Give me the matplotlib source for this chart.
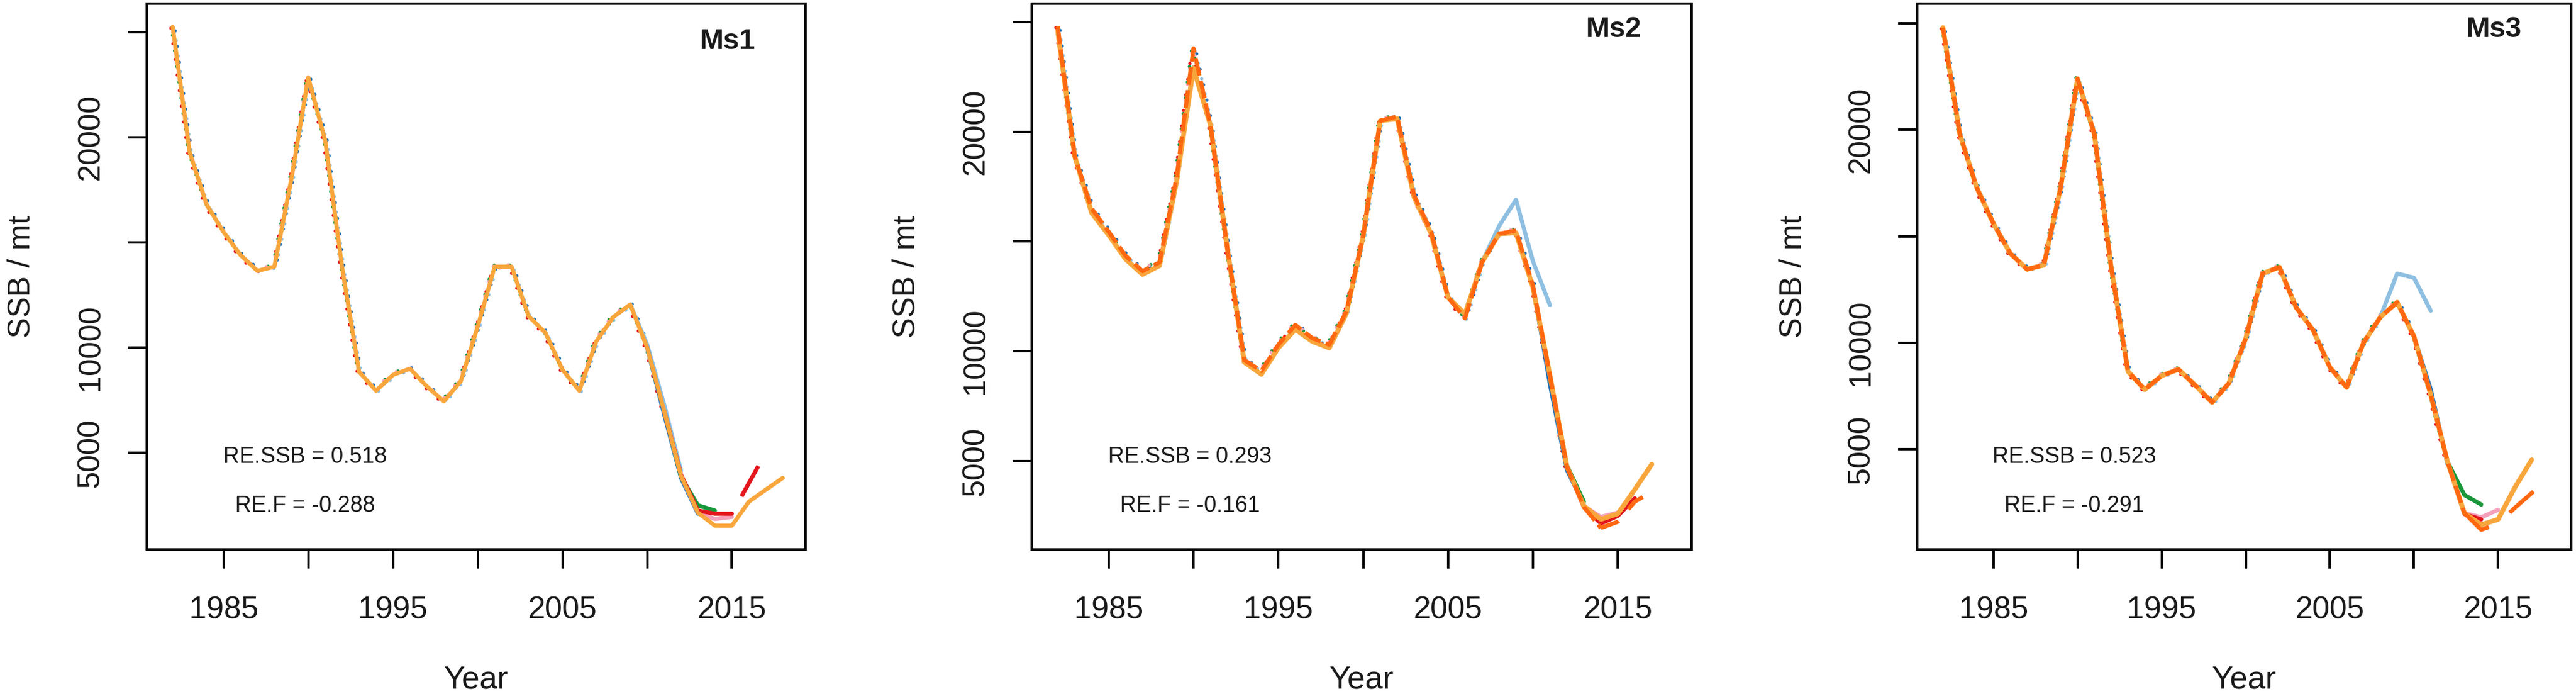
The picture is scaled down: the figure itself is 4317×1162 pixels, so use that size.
import matplotlib
matplotlib.use("Agg")
import matplotlib.pyplot as plt
from matplotlib.transforms import offset_copy

plt.rcParams['font.family'] = ['Liberation Sans', 'DejaVu Sans']
plt.rcParams['lines.scale_dashes'] = False

# ---------------- data ----------------
YEARS = list(range(1982, 2019))
PANELS = ["Ms1", "Ms2", "Ms3"]
RE_SSB = ["0.518", "0.293", "0.523"]
RE_F = ["-0.288", "-0.161", "-0.291"]

X_TICKS = [1985, 1990, 1995, 2000, 2005, 2010, 2015]
X_TICK_LABELS = ["1985", "", "1995", "", "2005", "", "2015"]
Y_TICKS = [5000, 10000, 15000, 20000, 25000]
Y_TICK_LABELS = ["5000", "10000", "", "20000", ""]

# Ms1: full run (light orange) 1982-2018
MS1_MAIN = [25250, 19300, 16800, 15500, 14400, 13650, 13850, 18000, 22850, 19850,
            13800, 8850, 7950, 8700, 9000, 8150, 7450, 8400, 11000, 13850,
            13850, 11500, 10700, 8950, 7950, 10300, 11450, 12050, 10000, 7000,
            3900, 2150, 1530, 1530, 2670, 3240, 3800]
# retrospective peels: (first year of divergence, values from that year on)
MS1_SKY_START, MS1_SKY_TAIL = 2010, [10150, 7300, 4150]
MS1_BLUE_START, MS1_BLUE_TAIL = 2011, [6850, 3800, 2100]
MS1_GREEN_START, MS1_GREEN_TAIL = 2012, [3850, 2500, 2250]
MS1_PINK_START, MS1_PINK_TAIL = 2012, [3900, 2150, 1850, 1950]
MS1_RED_START, MS1_RED_TAIL = 2012, [3950, 2250, 2100, 2100, 3550, 5000]

# Ms2: dark orange run 1982-2017 and light orange run 1982-2017
MS2_MAIN = [24800, 18900, 16500, 15450, 14350, 13650, 14050, 17900, 23800, 20300,
            14650, 9600, 9100, 10300, 11200, 10600, 10300, 11800, 15250, 20500,
            20700, 17100, 15450, 12450, 11500, 14050, 15350, 15500, 13000, 8900,
            4750, 2900, 1950, 2230, 3150, 3600]
MS2_LORANGE = [24600, 18900, 16300, 15300, 14200, 13500, 13900, 17700, 22900, 20300,
               14650, 9500, 8950, 10150, 11000, 10450, 10150, 11700, 15250, 20500,
               20600, 17000, 15350, 12450, 11700, 14050, 15350, 15400, 12900, 8900,
               4750, 2950, 2340, 2600, 3700, 4850]
MS2_SKY_START, MS2_SKY_TAIL = 2008, [15700, 16900, 14100, 12100]
MS2_BLUE_START, MS2_BLUE_TAIL = 2011, [8500, 4600, 3000]
MS2_GREEN_START, MS2_GREEN_TAIL = 2012, [4800, 3150]
MS2_PINK_START, MS2_PINK_TAIL = 2013, [2950, 2450, 2650]
MS2_RED_START, MS2_RED_TAIL = 2013, [2900, 2150, 2500, 3300]

# Ms3: shared body 1982-2013
MS3_MAIN = [24800, 19800, 17300, 15600, 14200, 13450, 13650, 17300, 22400, 19800,
            13550, 8650, 7800, 8450, 8750, 8000, 7200, 8100, 10200, 13250,
            13550, 11650, 10600, 8850, 7900, 10000, 11200, 11900, 10300, 7550,
            4400, 2000]
MS3_DORANGE_START, MS3_DORANGE_TAIL = 2014, [1213, 1500, 2250, 2940, 3640]
MS3_LORANGE_START, MS3_LORANGE_TAIL = 2014, [1450, 1700, 3200, 4500]
MS3_SKY_START, MS3_SKY_TAIL = 2009, [13250, 13050, 11500]
MS3_BLUE_START, MS3_BLUE_TAIL = 2011, [7800, 4300]
MS3_GREEN_START, MS3_GREEN_TAIL = 2013, [2850, 2400]
MS3_PINK_START, MS3_PINK_TAIL = 2014, [1800, 2150]
MS3_RED_START, MS3_RED_TAIL = 2013, [1950, 1700]

# ---------------- styling ----------------
LORANGE = '#F8A63C'
DORANGE = '#FF6810'
RED = '#E3161C'
PINK = '#F4A0BA'
GREEN = '#17973A'
BLUE = '#1F6EB6'
SKY = '#8EBFE1'
TXT = '#1a1a1a'

W, H, DPI = 4317, 1162, 100
fig = plt.figure(figsize=(W / DPI, H / DPI), dpi=DPI)

AX_BOTTOM, AX_TOP = 920, 6
boxes = [(246, 1350), (1729, 2835), (3213, 4309)]
YLIMS = [(400, 26360), (970, 25840), (290, 25930)]
XLIM = (1980.47, 2019.35)
MS_Y = [0.93, 0.952, 0.952]

LW = 5.0
BODY_DASH = (0, (21.6, 6.5))
# speck offsets (pixels) and phases per colour, mimicking peels peeking out
SPECK = {RED: (-3.0, -2.0, 0.0), GREEN: (-2.5, 2.5, 7.0), BLUE: (3.0, 1.5, 13.0),
         SKY: (3.0, -2.0, 4.0), PINK: (-1.5, 3.0, 10.0)}


def series(body, start, tail):
    k = start - YEARS[0]
    vals = body[:k] + tail
    return YEARS[:len(vals)], vals


def specks(ax, yrs, vals, color, z):
    dx, dy, ph = SPECK[color]
    tr = offset_copy(ax.transData, fig=fig, x=dx, y=dy, units='dots')
    ax.plot(yrs, vals, color=color, lw=4.0, linestyle=(ph, (0.01, 19.0)),
            dash_capstyle='round', transform=tr, zorder=z)


def solid(ax, yrs, vals, color, z, lw=LW):
    ax.plot(yrs, vals, color=color, lw=lw, solid_capstyle='round',
            solid_joinstyle='round', zorder=z)


def draw_peels(ax, body, peels):
    for z, (s, t, c) in enumerate(peels):
        y_, v_ = series(body, s, t)
        k = s - YEARS[0]
        specks(ax, y_[:k], v_[:k], c, 1 + z)
        solid(ax, y_[k - 1:], v_[k - 1:], c, 6 + z)


axes = []
for i, (l, r) in enumerate(boxes):
    ax = fig.add_axes([l / W, (H - AX_BOTTOM) / H, (r - l) / W, (AX_BOTTOM - AX_TOP) / H])
    axes.append(ax)
    ax.set_xlim(*XLIM)
    ax.set_ylim(*YLIMS[i])

# ---- Ms1 ----
ax = axes[0]
draw_peels(ax, MS1_MAIN, [(MS1_SKY_START, MS1_SKY_TAIL, SKY),
                          (MS1_BLUE_START, MS1_BLUE_TAIL, BLUE),
                          (MS1_GREEN_START, MS1_GREEN_TAIL, GREEN),
                          (MS1_PINK_START, MS1_PINK_TAIL, PINK)])
y_, v_ = series(MS1_MAIN, MS1_RED_START, MS1_RED_TAIL)
k0 = MS1_RED_START - YEARS[0]
specks(ax, y_[:k0], v_[:k0], RED, 5)
k = 2015 - YEARS[0]
solid(ax, y_[k0 - 1:k + 1], v_[k0 - 1:k + 1], RED, 10)
ax.plot(y_[k:], v_[k:], color=RED, lw=LW, linestyle=(41.8, (41.8, 24.0)), zorder=10)
solid(ax, YEARS, MS1_MAIN, LORANGE, 12)

# ---- Ms2 ----
ax = axes[1]
draw_peels(ax, MS2_MAIN, [(MS2_SKY_START, MS2_SKY_TAIL, SKY),
                          (MS2_BLUE_START, MS2_BLUE_TAIL, BLUE),
                          (MS2_GREEN_START, MS2_GREEN_TAIL, GREEN),
                          (MS2_PINK_START, MS2_PINK_TAIL, PINK),
                          (MS2_RED_START, MS2_RED_TAIL, RED)])
yrs2 = YEARS[:len(MS2_LORANGE)]
solid(ax, yrs2, MS2_LORANGE, LORANGE, 11, lw=LW + 0.8)
k = 2014 - YEARS[0]
ax.plot(yrs2[:k + 1], MS2_MAIN[:k + 1], color=DORANGE, lw=LW, linestyle=BODY_DASH,
        dash_joinstyle='round', zorder=12)
ax.plot(yrs2[k:], MS2_MAIN[k:], color=DORANGE, lw=LW, linestyle=(0, (23.0, 18.7)), zorder=12)

# ---- Ms3 ----
ax = axes[2]
draw_peels(ax, MS3_MAIN, [(MS3_SKY_START, MS3_SKY_TAIL, SKY),
                          (MS3_BLUE_START, MS3_BLUE_TAIL, BLUE),
                          (MS3_GREEN_START, MS3_GREEN_TAIL, GREEN),
                          (MS3_PINK_START, MS3_PINK_TAIL, PINK),
                          (MS3_RED_START, MS3_RED_TAIL, RED)])
y_, v_ = series(MS3_MAIN, MS3_LORANGE_START, MS3_LORANGE_TAIL)
solid(ax, y_, v_, LORANGE, 11, lw=LW + 0.8)
y_, v_ = series(MS3_MAIN, MS3_DORANGE_START, MS3_DORANGE_TAIL)
k = 2014 - YEARS[0]
ax.plot(y_[:k], v_[:k], color=DORANGE, lw=LW, linestyle=BODY_DASH,
        dash_joinstyle='round', zorder=12)
ax.plot(y_[k - 1:], v_[k - 1:], color=DORANGE, lw=LW, linestyle=(0, (38.5, 31.0)), zorder=12)

# ---- common decoration ----
for i, ax in enumerate(axes):
    for sp in ax.spines.values():
        sp.set_linewidth(2.9)
        sp.set_color('black')
    ax.set_xticks(X_TICKS, X_TICK_LABELS)
    ax.set_yticks(Y_TICKS, Y_TICK_LABELS)
    ax.tick_params(axis='both', direction='out', length=23, width=2.9,
                   labelsize=37.5, colors='black', labelcolor=TXT)
    ax.tick_params(axis='x', pad=33)
    ax.tick_params(axis='y', pad=27)
    for lab in ax.get_yticklabels():
        lab.set_rotation(90)
        lab.set_va('center')
        lab.set_ha('right')
    ax.set_xlabel('Year', fontsize=38.5, color=TXT, va='center')
    ax.xaxis.set_label_coords(0.5, -0.2396)
    ax.set_ylabel('SSB / mt', fontsize=37.5, color=TXT, va='center', ha='center')
    ax.yaxis.set_label_coords(-0.19, 0.5)
    ax.text(0.882, MS_Y[i], PANELS[i], transform=ax.transAxes, fontsize=34.5,
            fontweight='bold', color=TXT, ha='center', va='center')
    ax.text(0.24, 0.17, f"RE.SSB = {RE_SSB[i]}", transform=ax.transAxes,
            fontsize=27, color=TXT, ha='center', va='center')
    ax.text(0.24, 0.08, f"RE.F = {RE_F[i]}", transform=ax.transAxes,
            fontsize=27, color=TXT, ha='center', va='center')

fig.savefig('out.png', dpi=DPI, facecolor='white')
